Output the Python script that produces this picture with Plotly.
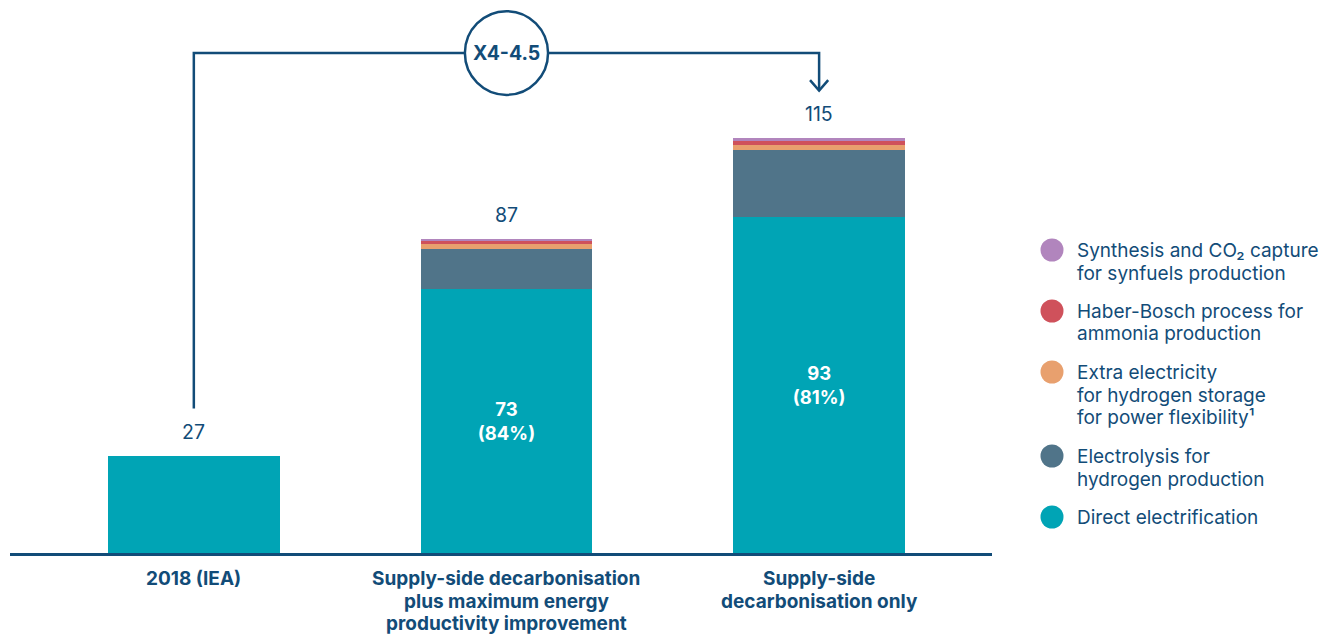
import plotly.graph_objects as go

categories = ["2018 (IEA)",
              "Supply-side decarbonisation<br>plus maximum energy<br>productivity improvement",
              "Supply-side<br>decarbonisation only"]
direct = [27, 73, 93]
electrolysis = [0, 11.3, 18.5]
extra_elec = [0, 1.3, 1.5]
haber = [0, 1.0, 1.0]
synthesis = [0, 0.5, 1.0]
totals = [27, 87, 115]
multiplier_label = "X4-4.5"

series = [
    ("Direct electrification", direct, "#00a4b5"),
    ("Electrolysis for<br>hydrogen production", electrolysis, "#507489"),
    ("Extra electricity<br>for hydrogen storage<br>for power flexibility¹", extra_elec, "#e8a06e"),
    ("Haber-Bosch process for<br>ammonia production", haber, "#cf515b"),
    ("Synthesis and CO₂ capture<br>for synfuels production", synthesis, "#b185bd"),
]

DARK = "#124c78"
FONT = "Inter, Roboto, Noto Sans, sans-serif"

# page layout (page has 8px body offset)
W, H = 1319, 627
OFF = 8
PLOT_L, PLOT_R, PLOT_T, PLOT_B = 10, 992, 8, 553  # in page pixels
PX_PER_UNIT = 3.61

fig = go.Figure()
xs = list(range(len(categories)))
for name, vals, col in series:
    if vals is direct:
        text = ["" if i == 0 else f"<b>{v:g}<br>({round(100*v/totals[i])}%)</b>" for i, v in enumerate(vals)]
    else:
        text = None
    fig.add_trace(go.Bar(
        x=xs, y=vals, name=name, marker=dict(color=col, line=dict(width=0)),
        text=text, textposition="inside" if text else None,
        insidetextanchor="middle", textangle=0,
        textfont=dict(color="white", size=18.5, family=FONT),
        showlegend=False, hoverinfo="skip"))

# totals above bars
for i, t in enumerate(totals):
    fig.add_annotation(x=i, y=t, text=str(t), showarrow=False, yanchor="bottom",
                       yshift=10, font=dict(size=19.5, color=DARK, family=FONT))

# connector from 2018 bar to last bar
y_top = 138.5
fig.add_shape(type="path", xref="x", yref="y",
              path=f"M 0,40 L 0,{y_top} L 2,{y_top} L 2,128.2",
              line=dict(color=DARK, width=2.5))
fig.add_shape(type="path", xref="x", yref="y",
              path="M 1.971,131.0 L 2,128.1 L 2.029,131.0",
              line=dict(color=DARK, width=2.5))
fig.add_shape(type="circle", xref="x", yref="y",
              x0=1 - 0.133, x1=1 + 0.133, y0=y_top - 11.6, y1=y_top + 11.6,
              fillcolor="white", line=dict(color=DARK, width=2.5), layer="above")
fig.add_annotation(x=1, y=y_top, text=f"<b>{multiplier_label}</b>", showarrow=False,
                   font=dict(size=19.5, color=DARK, family=FONT))

def px(xp):
    return (xp - PLOT_L) / (PLOT_R - PLOT_L)
def py(yp):
    return (PLOT_B - yp) / (PLOT_B - PLOT_T)

# category labels (one annotation per line for exact line spacing)
CAT_GAP = 22
for i, c in enumerate(categories):
    for k, line in enumerate(c.split("<br>")):
        fig.add_annotation(x=i, xref="x", yref="paper", y=py(579 + k * CAT_GAP),
                           yanchor="middle", showarrow=False, text=f"<b>{line}</b>",
                           font=dict(size=19, color=DARK, family=FONT))

# legend (custom)
legend_rows = [250, 311, 372, 456, 517]
LINE_GAP = 23
for (name, vals, col), yrow in zip(reversed(series), legend_rows):
    fig.add_shape(type="circle", xref="paper", yref="paper",
                  xsizemode="pixel", ysizemode="pixel",
                  xanchor=px(1052), yanchor=py(yrow),
                  x0=-11.5, x1=11.5, y0=-11.5, y1=11.5,
                  fillcolor=col, line=dict(width=0))
    for k, line in enumerate(name.split("<br>")):
        fig.add_annotation(xref="paper", yref="paper", x=px(1075), y=py(yrow + k * LINE_GAP),
                           xanchor="left", yanchor="middle", align="left", showarrow=False,
                           text=line, font=dict(size=19, color=DARK, family=FONT))

fig.update_layout(
    barmode="stack", bargap=0.45,
    width=W, height=H, autosize=False,
    margin=dict(l=PLOT_L - OFF, r=W - (PLOT_R - OFF), t=PLOT_T - OFF, b=H - (PLOT_B - OFF),
                autoexpand=False),
    plot_bgcolor="white", paper_bgcolor="white",
    font=dict(family=FONT, color=DARK),
    xaxis=dict(range=[-0.588, 2.553], tickmode="array", tickvals=xs,
               showticklabels=False, automargin=False,
               showline=True, linecolor=DARK, linewidth=2.5, ticks="",
               showgrid=False, zeroline=False, fixedrange=True),
    yaxis=dict(range=[0, (PLOT_B - PLOT_T) / PX_PER_UNIT], visible=False, automargin=False,
               showgrid=False, zeroline=False, fixedrange=True),
)

fig.write_html("out.html")
